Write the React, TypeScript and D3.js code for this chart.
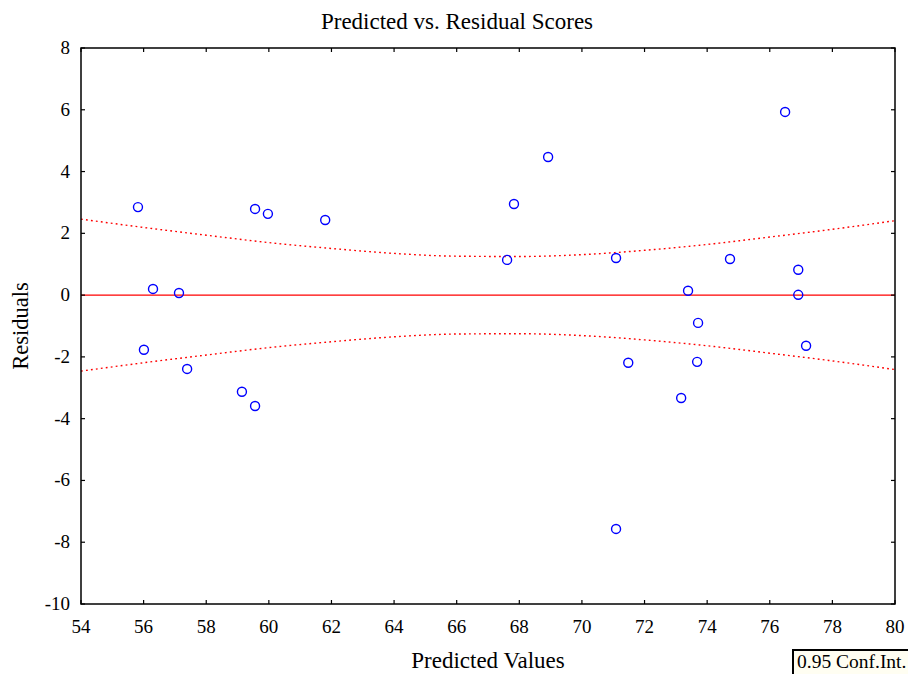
import { useEffect, useRef } from "react"
import * as d3 from "d3"

// predicted value / residual pairs
const predicted = [
  55.82, 56.30, 56.01, 57.13, 57.39, 59.14, 59.56, 59.56, 59.97, 61.80,
  67.61, 67.83, 68.92, 71.09, 71.48, 71.09, 73.17, 73.39, 73.71, 73.68,
  74.73, 76.49, 76.91, 76.91, 77.16,
]
const residuals = [
  2.85, 0.20, -1.77, 0.07, -2.39, -3.13, 2.79, -3.59, 2.63, 2.43,
  1.14, 2.95, 4.47, 1.20, -2.19, -7.57, -3.33, 0.14, -0.90, -2.16,
  1.17, 5.93, 0.82, 0.01, -1.64,
]

// 0.95 confidence band half-width, read at each even x
const bandX = [54, 56, 58, 60, 62, 64, 66, 68, 70, 72, 74, 76, 78, 80]
const bandHalf = [2.46, 2.19, 1.94, 1.70, 1.51, 1.35, 1.26, 1.25, 1.31, 1.45, 1.64, 1.88, 2.13, 2.41]

const xTicks = [54, 56, 58, 60, 62, 64, 66, 68, 70, 72, 74, 76, 78, 80]
const yTicks = [8, 6, 4, 2, 0, -2, -4, -6, -8, -10]

const W = 908
const H = 674
const FONT = "Liberation Serif"

export default function App() {
  const ref = useRef<SVGSVGElement>(null)

  useEffect(() => {
    const svg = d3.select(ref.current)
    svg.selectAll("*").remove()

    const left = 81, right = 895, top = 48, bottom = 604
    const x = d3.scaleLinear().domain([54, 80]).range([left, right])
    const y = d3.scaleLinear().domain([-10, 8]).range([bottom, top])

    svg.append("rect").attr("width", W).attr("height", H).attr("fill", "#fff")

    // title
    svg.append("text")
      .attr("x", W / 2 + 3).attr("y", 29)
      .attr("text-anchor", "middle")
      .attr("font-family", FONT).attr("font-size", 23)
      .text("Predicted vs. Residual Scores")

    // zero line
    svg.append("line")
      .attr("x1", left).attr("x2", right)
      .attr("y1", y(0)).attr("y2", y(0))
      .attr("stroke", "#ff0000").attr("stroke-width", 1.2)

    // confidence band
    const band = bandX.map((v, i) => [v, bandHalf[i]] as [number, number])
    const upper = d3.line<[number, number]>().x(d => x(d[0])).y(d => y(d[1])).curve(d3.curveMonotoneX)
    const lower = d3.line<[number, number]>().x(d => x(d[0])).y(d => y(-d[1])).curve(d3.curveMonotoneX)
    svg.append("path").attr("d", upper(band))
      .attr("fill", "none").attr("stroke", "#ff0000").attr("stroke-width", 1.4).attr("stroke-dasharray", "1.8,3.2")
    svg.append("path").attr("d", lower(band))
      .attr("fill", "none").attr("stroke", "#ff0000").attr("stroke-width", 1.4).attr("stroke-dasharray", "1.8,3.2")

    // points
    svg.append("g").selectAll("circle")
      .data(predicted)
      .join("circle")
      .attr("cx", d => x(d))
      .attr("cy", (_, i) => y(residuals[i]))
      .attr("r", 4.5)
      .attr("fill", "none")
      .attr("stroke", "#0000ff")
      .attr("stroke-width", 1.4)

    // frame
    svg.append("rect")
      .attr("x", left).attr("y", top)
      .attr("width", right - left).attr("height", bottom - top)
      .attr("fill", "none").attr("stroke", "#000").attr("stroke-width", 1.5)

    // inward ticks on all sides
    const tk = 4
    const ticks = svg.append("g").attr("stroke", "#000").attr("stroke-width", 1.2)
    xTicks.forEach(t => {
      ticks.append("line").attr("x1", x(t)).attr("x2", x(t)).attr("y1", bottom).attr("y2", bottom - tk)
      ticks.append("line").attr("x1", x(t)).attr("x2", x(t)).attr("y1", top).attr("y2", top + tk)
    })
    yTicks.forEach(t => {
      ticks.append("line").attr("x1", left).attr("x2", left + tk).attr("y1", y(t)).attr("y2", y(t))
      ticks.append("line").attr("x1", right).attr("x2", right - tk).attr("y1", y(t)).attr("y2", y(t))
    })

    // tick labels
    svg.append("g").selectAll("text")
      .data(xTicks)
      .join("text")
      .attr("x", d => x(d)).attr("y", 633)
      .attr("text-anchor", "middle")
      .attr("font-family", FONT).attr("font-size", 19)
      .text(d => d)
    svg.append("g").selectAll("text")
      .data(yTicks)
      .join("text")
      .attr("x", 70).attr("y", d => y(d) + 6)
      .attr("text-anchor", "end")
      .attr("font-family", FONT).attr("font-size", 19)
      .text(d => d)

    // axis titles
    svg.append("text")
      .attr("x", (left + right) / 2).attr("y", 668)
      .attr("text-anchor", "middle")
      .attr("font-family", FONT).attr("font-size", 23)
      .text("Predicted Values")
    svg.append("text")
      .attr("transform", `translate(28,${(top + bottom) / 2}) rotate(-90)`)
      .attr("text-anchor", "middle")
      .attr("font-family", FONT).attr("font-size", 22.5)
      .text("Residuals")

    // legend box
    svg.append("rect")
      .attr("x", 793).attr("y", 650).attr("width", 130).attr("height", 40)
      .attr("fill", "#fffef2").attr("stroke", "#000").attr("stroke-width", 2)
    svg.append("text")
      .attr("x", 797).attr("y", 668)
      .attr("font-family", FONT).attr("font-size", 19.5)
      .text("0.95 Conf.Int.")
  }, [])

  return (
    <div style={{ position: "absolute", left: 0, top: 0 }}>
      <svg ref={ref} width={W} height={H}></svg>
    </div>
  )
}
